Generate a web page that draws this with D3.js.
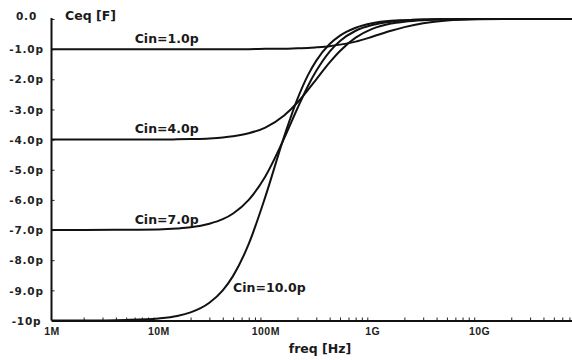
<!DOCTYPE html>
<html>
<head>
<meta charset="utf-8">
<script src="https://cdn.jsdelivr.net/npm/d3@7"></script>
<style>
  html, body { margin: 0; padding: 0; background: #fff; }
  svg { display: block; }
</style>
</head>
<body>
<svg id="chart" width="572" height="360"></svg>
<script>
// ---- data ----
const freqs = [1e6, 2e6, 5e6, 1e7, 1.5e7, 2e7, 3e7, 4e7, 5e7, 7e7, 1e8, 1.5e8, 2e8, 2.5e8, 3e8, 4e8, 5e8, 7e8, 1e9, 1.5e9, 2e9, 3e9, 5e9, 1e10, 2e10, 5e10, 1e11];
const cin10 = [-10.0,-10.0,-9.98,-9.93,-9.85,-9.73,-9.41,-9.0,-8.52,-7.46,-5.90,-3.90,-2.65,-1.87,-1.38,-0.83,-0.55,-0.29,-0.14,-0.06,-0.04,-0.02,-0.01,0,0,0,0];
const cin7  = [-7.0,-7.0,-6.99,-6.98,-6.95,-6.91,-6.79,-6.64,-6.45,-6.0,-5.22,-3.96,-2.96,-2.23,-1.72,-1.08,-0.73,-0.39,-0.2,-0.09,-0.05,-0.02,-0.01,0,0,0,0];
const cin4  = [-4.0,-4.0,-4.0,-4.0,-3.99,-3.98,-3.96,-3.93,-3.89,-3.79,-3.6,-3.2,-2.77,-2.36,-2.0,-1.44,-1.06,-0.62,-0.33,-0.15,-0.09,-0.04,-0.01,0,0,0,0];
const cin1  = [-1.0,-1.0,-1.0,-1.0,-1.0,-1.0,-1.0,-1.0,-1.0,-1.0,-0.99,-0.985,-0.97,-0.96,-0.94,-0.9,-0.85,-0.75,-0.59,-0.39,-0.27,-0.14,-0.05,-0.01,0,0,0];
const seriesNames = ["Cin=1.0p", "Cin=4.0p", "Cin=7.0p", "Cin=10.0p"];
const labelAnchors = [6e6, 6e6, 6e6, 5e7];   // frequency where each curve label starts
const labelLevels = [-0.81, -3.78, -6.8, -9.05];

const yTicks = [0, -1, -2, -3, -4, -5, -6, -7, -8, -9, -10];
const yTickLabels = ["0.0", "-1.0p", "-2.0p", "-3.0p", "-4.0p", "-5.0p", "-6.0p", "-7.0p", "-8.0p", "-9.0p", "-10p"];
const xTicks = [1e6, 1e7, 1e8, 1e9, 1e10];
const xTickLabels = ["1M", "10M", "100M", "1G", "10G"];
const yTitle = "Ceq [F]";
const xTitle = "freq [Hz]";

// ---- drawing ----
const svg = d3.select("#chart");
const x = d3.scaleLog().domain([1e6, 1e11]).range([51.5, 586]);
const y = d3.scaleLinear().domain([-10, 0]).range([320.5, 19]);

const series = [cin1, cin4, cin7, cin10];

// minor ticks on x axis
const minors = [];
for (let e = 6; e <= 10; e++) for (let k = 2; k <= 9; k++) minors.push(k * Math.pow(10, e));

const gxMinor = svg.append("g").attr("transform", "translate(0,320.5)")
  .call(d3.axisTop(x).tickValues(minors).tickSize(3).tickFormat(""));
gxMinor.select(".domain").remove();
gxMinor.selectAll("line").attr("stroke", "#222").attr("stroke-width", 1);

const gx = svg.append("g").attr("transform", "translate(0,320.5)")
  .call(d3.axisBottom(x).tickValues(xTicks).tickSize(0).tickSizeOuter(0)
        .tickFormat((d, i) => xTickLabels[i]));
gx.select(".domain").attr("stroke", "#111").attr("stroke-width", 2);
gx.selectAll("text")
  .attr("y", 14).attr("dy", 0)
  .attr("font-family", "'Liberation Sans', Arial, sans-serif")
  .attr("font-weight", "bold").attr("font-size", 10.5)
  .attr("letter-spacing", 0.5)
  .attr("fill", "#222");

// y axis
const gyTicks = svg.append("g").attr("transform", "translate(51.5,0)")
  .call(d3.axisRight(y).tickValues(yTicks).tickSize(3).tickFormat(""));
gyTicks.select(".domain").remove();
gyTicks.selectAll("line").attr("stroke", "#222").attr("stroke-width", 1);

const gy = svg.append("g").attr("transform", "translate(51.5,0)")
  .call(d3.axisLeft(y).tickValues(yTicks).tickSize(0).tickSizeOuter(0)
        .tickFormat((d, i) => yTickLabels[i]));
gy.select(".domain").attr("stroke", "#111").attr("stroke-width", 2)
  .attr("d", `M0,${y(0) - 1}V${y(-10)}`);
gy.selectAll("text")
  .attr("x", -25).attr("text-anchor", "middle")
  .attr("dy", "0.35em")
  .attr("font-family", "'DejaVu Sans', sans-serif")
  .attr("font-weight", "bold").attr("font-size", 10.5)
  .attr("letter-spacing", 0.8)
  .attr("fill", "#222");
gy.selectAll(".tick").filter(d => d === 0).select("text").attr("dy", "0.05em");

// curves
const line = d3.line()
  .x((d, i) => x(freqs[i]))
  .y(d => y(d))
  .curve(d3.curveMonotoneX);

svg.append("g").selectAll("path").data(series).join("path")
  .attr("d", d => line(d))
  .attr("fill", "none")
  .attr("stroke", "#111")
  .attr("stroke-width", 2);

// curve labels
svg.append("g").selectAll("text").data(seriesNames).join("text")
  .attr("x", (d, i) => x(labelAnchors[i]))
  .attr("y", (d, i) => y(labelLevels[i]))
  .attr("font-family", "'DejaVu Sans', sans-serif")
  .attr("font-size", 12.5).attr("font-weight", "bold")
  .attr("fill", "#1a1a1a")
  .text(d => d);

// titles
svg.append("text")
  .attr("x", 65).attr("y", 20)
  .attr("font-family", "'DejaVu Sans', sans-serif")
  .attr("font-size", 12.5).attr("font-weight", "bold")
  .attr("fill", "#1a1a1a")
  .text(yTitle);

svg.append("text")
  .attr("x", 320).attr("y", 353)
  .attr("text-anchor", "middle")
  .attr("font-family", "'DejaVu Sans', sans-serif")
  .attr("font-size", 12.5).attr("font-weight", "bold")
  .attr("fill", "#1a1a1a")
  .text(xTitle);
</script>
</body>
</html>
